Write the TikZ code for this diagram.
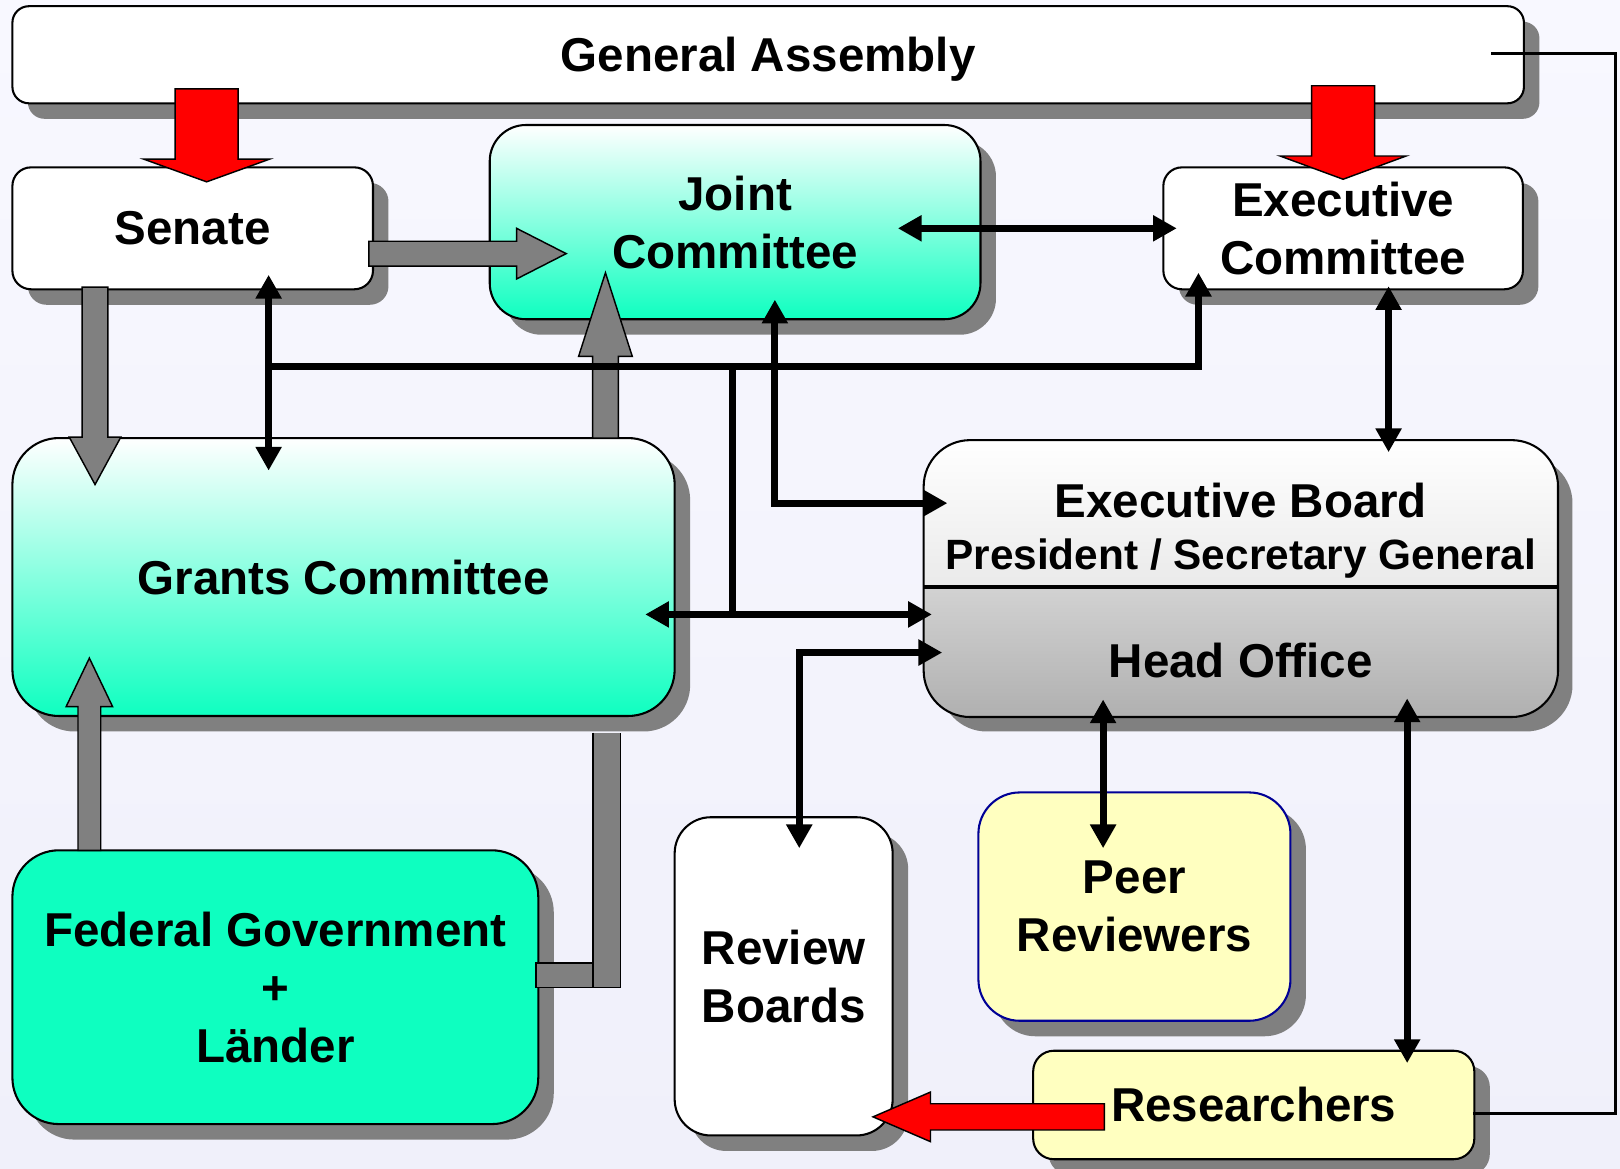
\documentclass[tikz,border=0pt]{standalone}
\usepackage{fontspec}
\setmainfont{Liberation Sans}
\usetikzlibrary{arrows.meta,shadows,calc}
\definecolor{bgtop}{RGB}{248,248,255}
\definecolor{bgbot}{RGB}{240,240,250}
\definecolor{shadowgray}{RGB}{128,128,128}
\definecolor{aqua}{RGB}{14,255,192}
\definecolor{mint}{RGB}{175,255,226}
\definecolor{paleyellow}{RGB}{255,255,192}
\definecolor{peerblue}{RGB}{0,0,150}
\definecolor{blockred}{RGB}{255,0,0}
\definecolor{blockgray}{RGB}{128,128,128}
\definecolor{exbupper}{RGB}{234,234,234}
\definecolor{exblowtop}{RGB}{210,210,210}
\definecolor{exblowbot}{RGB}{176,176,176}
\newcommand\vblockarrow[7]{%
  \filldraw[blockedge, fill=#1] ({#2-#6},#3) -- ({#2+#6},#3) -- ({#2+#6},#4) -- ({#2+#7},#4) -- (#2,#5) -- ({#2-#7},#4) -- ({#2-#6},#4) -- cycle;}
\newcommand\hblockarrow[7]{%
  \filldraw[blockedge, fill=#1] (#3,{#2+#6}) -- (#4,{#2+#6}) -- (#4,{#2+#7}) -- (#5,#2) -- (#4,{#2-#7}) -- (#4,{#2-#6}) -- (#3,{#2-#6}) -- cycle;}
\begin{document}
\begin{tikzpicture}[x=1pt,y=1pt,
  big/.style={font=\bfseries\fontsize{46}{56}\selectfont},
  box/.style={draw=black, line width=2pt, align=center, inner sep=0pt, big,
    drop shadow={shadow xshift=15pt, shadow yshift=-15pt, fill=shadowgray, opacity=1, draw=none}},
  blockedge/.style={draw=black, line width=1.4pt, line join=miter},
  wire/.style={line width=7pt},
  conn/.style={line width=7pt, -{Triangle[length=23pt,width=24pt]}},
  dconn/.style={line width=7pt, {Triangle[length=23pt,width=24pt]}-{Triangle[length=23pt,width=24pt]}},
  fb/.style={line width=3pt}]
\useasboundingbox (0,0) rectangle (1568,-1131);
\shade[top color=bgtop, bottom color=bgbot] (0,0) rectangle (1568,-1131);

% boxes
\node[box, fill=white, rounded corners=16pt, minimum width=1463pt, minimum height=94pt, text depth=0pt] (ga) at (743.5,-53) {General Assembly};
\node[box, fill=white, rounded corners=18pt, minimum width=349pt, minimum height=118pt] (senate) at (186.5,-221) {Senate};
\node[box, top color=white, bottom color=aqua, rounded corners=35pt, minimum width=475pt, minimum height=188pt] (joint) at (711.5,-215) {Joint\\Committee};
\node[box, fill=white, rounded corners=18pt, minimum width=348pt, minimum height=118pt] (execc) at (1300,-221) {Executive\\Committee};
\node[box, top color=white, middle color=mint, bottom color=aqua, rounded corners=45pt, minimum width=641pt, minimum height=269pt] (grants) at (332.5,-558.5) {Grants Committee};
\node[box, fill=white, rounded corners=45pt, minimum width=612pt, minimum height=266pt] (exb) at (1201,-560) {};
\node[box, fill=aqua, rounded corners=45pt, minimum width=509pt, minimum height=265pt] (fed) at (266.5,-955.5) {Federal Government\\+\\Länder};
\node[box, fill=white, rounded corners=35pt, minimum width=211pt, minimum height=308pt] (review) at (758.5,-945) {Review\\Boards};
\node[box, fill=paleyellow, draw=peerblue, rounded corners=40pt, minimum width=302pt, minimum height=221pt] (peer) at (1098,-877.5) {Peer\\Reviewers};
\node[box, fill=paleyellow, rounded corners=20pt, minimum width=427pt, minimum height=105pt] (res) at (1213.5,-1069.5) {Researchers};

% executive board / head office interior
\begin{scope}
  \clip[rounded corners=45pt] (exb.south west) rectangle (exb.north east);
  \shade[top color=white, bottom color=exbupper] (exb.north west) rectangle ($(exb.east)+(0,-8)$);
  \shade[top color=exblowtop, bottom color=exblowbot] ($(exb.west)+(0,-8)$) rectangle (exb.south east);
\end{scope}
\draw[line width=2pt, rounded corners=45pt] (exb.south west) rectangle (exb.north east);
\draw[line width=4pt] ($(exb.west)+(0,-8)$) -- ($(exb.east)+(0,-8)$);
\node[big, anchor=base] (exbt) at (1201,-500.5) {Executive Board};
\node[font=\bfseries\fontsize{41}{48}\selectfont, anchor=base] (pres) at (1201,-551) {President / Secretary General};
\node[big, anchor=base] (ho) at (1201,-655.5) {Head Office};

% block arrows
\vblockarrow{blockred}{200}{-86}{-154}{-176}{30.5}{61}
\vblockarrow{blockred}{1300}{-83}{-151}{-173.5}{30.5}{61}
\hblockarrow{blockgray}{-245.5}{357}{500}{548}{12}{24.5}
\vblockarrow{blockgray}{92}{-278}{-423}{-469}{12.5}{25}
\vblockarrow{blockgray}{586}{-424}{-345}{-264}{12.5}{26}
\vblockarrow{blockgray}{86.5}{-823}{-684}{-637}{11}{22.5}
\hblockarrow{blockred}{-1081}{1069}{900.6}{845}{12.7}{24}
% gray bracket from Federal Government + Laender to Grants Committee
\fill[blockgray] (574,-709) rectangle (600.7,-955.8);
\draw[blockedge] (574,-709) -- (574,-955.8) -- (600.7,-955.8) -- (600.7,-709);
\filldraw[blockedge, fill=blockgray] (518.6,-932) rectangle (574,-955.8);

% black connectors
\draw[dconn] ($(joint.east |- execc.west)+(-81,0)$) -- ($(execc.west)+(14,0)$);
\draw[dconn] ($(senate.south west)+(249,15)$) -- ($(grants.north west)+(249,-32.5)$);
\coordinate (hubL) at ($(senate.south west)+(249,-74)$);
\draw[conn] (hubL) -| ($(execc.south west)+(35,17)$);
\coordinate (hubM) at ($(hubL)+(449,0)$);
\coordinate (gtip) at ($(grants.east)+(-29.5,-36.2)$);
\draw[dconn] (gtip) -- ($(exb.west)+(8,-34.7)$);
\draw[wire] (hubM) -- (hubM |- gtip);
\draw[dconn] ($(joint.south west)+(277,20)$) |- ($(exb.north west)+(23,-61)$);
\draw[dconn] ($(exb.west)+(18,-71.6)$) -| ($(review.north west)+(121.6,-31)$);
\draw[dconn] ($(exb.south west)+(173.7,17)$) -- ($(peer.north west)+(121.7,-55)$);
\draw[dconn] ($(exb.south west)+(468,18)$) -- ($(res.north west)+(363,-13)$);
\draw[dconn] ($(execc.south west)+(219,4)$) -- ($(exb.north west)+(450,-11.7)$);
\coordinate (rt) at ($(ga.east)+(88,1.4)$);
\draw[fb] ($(res.east)+(-2.5,-8.5)$) -| (rt) -- ($(ga.east)+(-33,1.4)$);
\end{tikzpicture}
\end{document}
